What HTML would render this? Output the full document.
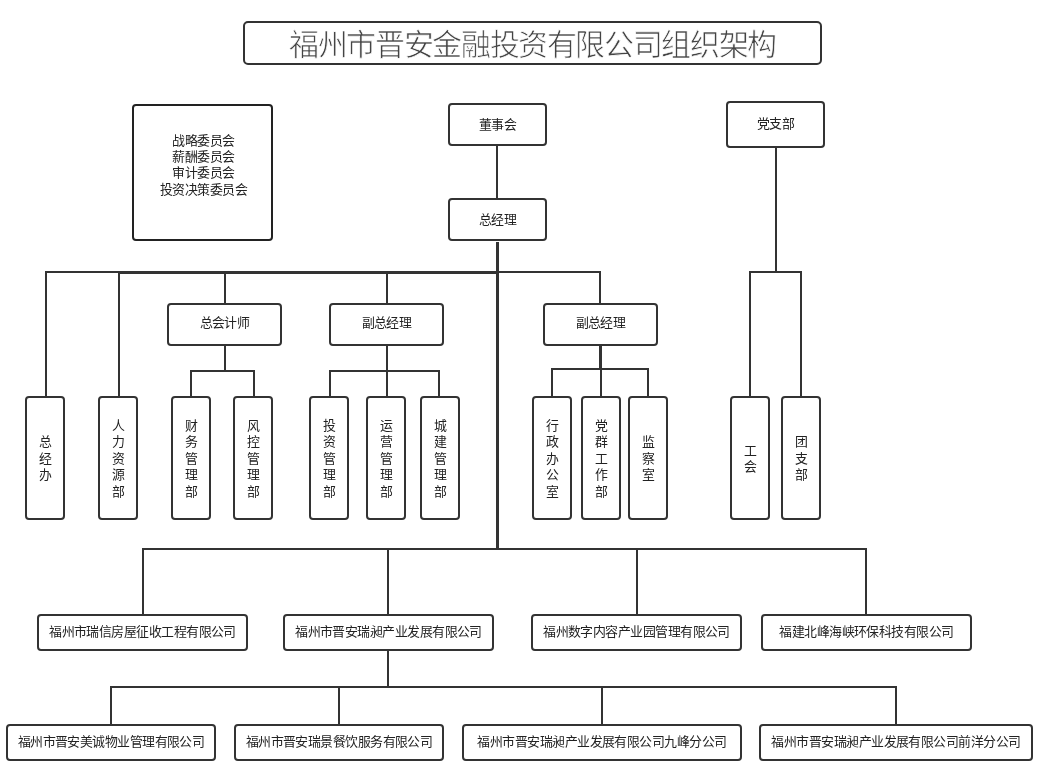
<!DOCTYPE html>
<html lang="zh-CN"><head><meta charset="utf-8"><title>福州市晋安金融投资有限公司组织架构</title>
<style>
html,body{margin:0;padding:0;background:#fff;}
body{width:1038px;height:772px;position:relative;overflow:hidden;}
#w{position:absolute;left:0;top:0;width:1038px;height:772px;background:#fff;filter:grayscale(1);font-family:"Liberation Sans",sans-serif;color:#222;}
.b{position:absolute;box-sizing:border-box;border:2px solid #333;border-radius:4px;background:#fff;display:flex;align-items:center;justify-content:center;font-size:12.9px;letter-spacing:-0.55px;line-height:16.4px;white-space:nowrap;}
.v span{display:block;text-align:center;line-height:16.45px;}
.l{position:absolute;background:#333;}
.t{position:absolute;box-sizing:border-box;border:2px solid #333;border-radius:5px;display:flex;align-items:center;justify-content:center;font-family:"Liberation Serif",serif;font-size:30px;letter-spacing:-1.35px;font-weight:300;color:#444;-webkit-text-stroke:0.7px #fff;padding-bottom:3px;white-space:nowrap;}
.c{position:absolute;box-sizing:border-box;border:2px solid #222;border-radius:4px;font-size:12.9px;letter-spacing:-0.55px;line-height:16.4px;text-align:center;}
</style></head><body><div id="w">
<div class="l" style="left:496px;top:146px;width:2px;height:52px"></div>
<div class="l" style="left:496px;top:242px;width:3px;height:308px"></div>
<div class="l" style="left:45px;top:271px;width:556px;height:2px"></div>
<div class="l" style="left:118px;top:271px;width:380px;height:3px"></div>
<div class="l" style="left:45px;top:272px;width:2px;height:125px"></div>
<div class="l" style="left:118px;top:272px;width:2px;height:125px"></div>
<div class="l" style="left:224px;top:272px;width:2px;height:31px"></div>
<div class="l" style="left:386px;top:272px;width:2px;height:31px"></div>
<div class="l" style="left:599px;top:272px;width:2px;height:31px"></div>
<div class="l" style="left:223.5px;top:345px;width:2.5px;height:26px"></div>
<div class="l" style="left:190px;top:370px;width:65px;height:2px"></div>
<div class="l" style="left:190px;top:371px;width:2px;height:26px"></div>
<div class="l" style="left:253px;top:371px;width:2px;height:26px"></div>
<div class="l" style="left:386px;top:345px;width:2px;height:52px"></div>
<div class="l" style="left:329.2px;top:370px;width:110.8px;height:2px"></div>
<div class="l" style="left:329.2px;top:371px;width:2px;height:26px"></div>
<div class="l" style="left:438px;top:371px;width:2px;height:26px"></div>
<div class="l" style="left:599px;top:345px;width:3px;height:25px"></div>
<div class="l" style="left:600px;top:369px;width:2px;height:28px"></div>
<div class="l" style="left:551px;top:368px;width:98px;height:2px"></div>
<div class="l" style="left:551px;top:369px;width:2px;height:28px"></div>
<div class="l" style="left:647px;top:369px;width:2px;height:28px"></div>
<div class="l" style="left:775px;top:147px;width:2px;height:126px"></div>
<div class="l" style="left:749px;top:271px;width:53px;height:2px"></div>
<div class="l" style="left:749px;top:272px;width:2px;height:125px"></div>
<div class="l" style="left:800px;top:272px;width:2px;height:125px"></div>
<div class="l" style="left:142px;top:548px;width:725px;height:2px"></div>
<div class="l" style="left:142px;top:549px;width:2px;height:65px"></div>
<div class="l" style="left:387px;top:549px;width:2px;height:65px"></div>
<div class="l" style="left:636px;top:549px;width:2px;height:65px"></div>
<div class="l" style="left:865px;top:549px;width:2px;height:65px"></div>
<div class="l" style="left:387px;top:650px;width:2px;height:37px"></div>
<div class="l" style="left:110px;top:686px;width:787px;height:2px"></div>
<div class="l" style="left:110px;top:687px;width:2px;height:37px"></div>
<div class="l" style="left:338px;top:687px;width:2px;height:37px"></div>
<div class="l" style="left:601px;top:687px;width:2px;height:37px"></div>
<div class="l" style="left:895px;top:687px;width:2px;height:37px"></div>
<div class="t" style="left:243px;top:21px;width:579px;height:44px">福州市晋安金融投资有限公司组织架构</div>
<div class="c" style="left:132px;top:104px;width:141px;height:137px;padding-top:26.5px;padding-left:2px">战略委员会<br>薪酬委员会<br>审计委员会<br>投资决策委员会</div>
<div class="b" style="left:448px;top:103px;width:99px;height:43px;padding-top:2px">董事会</div>
<div class="b" style="left:448px;top:198px;width:99px;height:43px;padding-top:2px">总经理</div>
<div class="b" style="left:726px;top:101px;width:99px;height:47px">党支部</div>
<div class="b" style="left:167px;top:303px;width:115px;height:42.5px;padding-bottom:2px">总会计师</div>
<div class="b" style="left:329px;top:303px;width:115px;height:42.5px;padding-bottom:2px">副总经理</div>
<div class="b" style="left:543px;top:303px;width:115px;height:42.5px;padding-bottom:2px">副总经理</div>
<div class="b v" style="left:25px;top:396px;width:40px;height:124px;padding-top:2px"><span>总<br>经<br>办</span></div>
<div class="b v" style="left:98px;top:396px;width:40px;height:124px;padding-top:2px"><span>人<br>力<br>资<br>源<br>部</span></div>
<div class="b v" style="left:171px;top:396px;width:40px;height:124px;padding-top:2px"><span>财<br>务<br>管<br>理<br>部</span></div>
<div class="b v" style="left:233px;top:396px;width:40px;height:124px;padding-top:2px"><span>风<br>控<br>管<br>理<br>部</span></div>
<div class="b v" style="left:309px;top:396px;width:40px;height:124px;padding-top:2px"><span>投<br>资<br>管<br>理<br>部</span></div>
<div class="b v" style="left:366px;top:396px;width:40px;height:124px;padding-top:2px"><span>运<br>营<br>管<br>理<br>部</span></div>
<div class="b v" style="left:420px;top:396px;width:40px;height:124px;padding-top:2px"><span>城<br>建<br>管<br>理<br>部</span></div>
<div class="b v" style="left:532px;top:396px;width:40px;height:124px;padding-top:2px"><span>行<br>政<br>办<br>公<br>室</span></div>
<div class="b v" style="left:581px;top:396px;width:40px;height:124px;padding-top:2px"><span>党<br>群<br>工<br>作<br>部</span></div>
<div class="b v" style="left:628px;top:396px;width:40px;height:124px;padding-top:2px"><span>监<br>察<br>室</span></div>
<div class="b v" style="left:730px;top:396px;width:40px;height:124px;padding-top:2px"><span>工<br>会</span></div>
<div class="b v" style="left:781px;top:396px;width:40px;height:124px;padding-top:2px"><span>团<br>支<br>部</span></div>
<div class="b" style="left:37px;top:614px;width:211px;height:36.5px">福州市瑞信房屋征收工程有限公司</div>
<div class="b" style="left:283px;top:614px;width:211px;height:36.5px">福州市晋安瑞昶产业发展有限公司</div>
<div class="b" style="left:531px;top:614px;width:211px;height:36.5px">福州数字内容产业园管理有限公司</div>
<div class="b" style="left:761px;top:614px;width:211px;height:36.5px">福建北峰海峡环保科技有限公司</div>
<div class="b" style="left:6px;top:724px;width:210px;height:37px">福州市晋安美诚物业管理有限公司</div>
<div class="b" style="left:234px;top:724px;width:210px;height:37px">福州市晋安瑞景餐饮服务有限公司</div>
<div class="b" style="left:462px;top:724px;width:280px;height:37px">福州市晋安瑞昶产业发展有限公司九峰分公司</div>
<div class="b" style="left:759px;top:724px;width:274px;height:37px">福州市晋安瑞昶产业发展有限公司前洋分公司</div>
</div></body></html>
